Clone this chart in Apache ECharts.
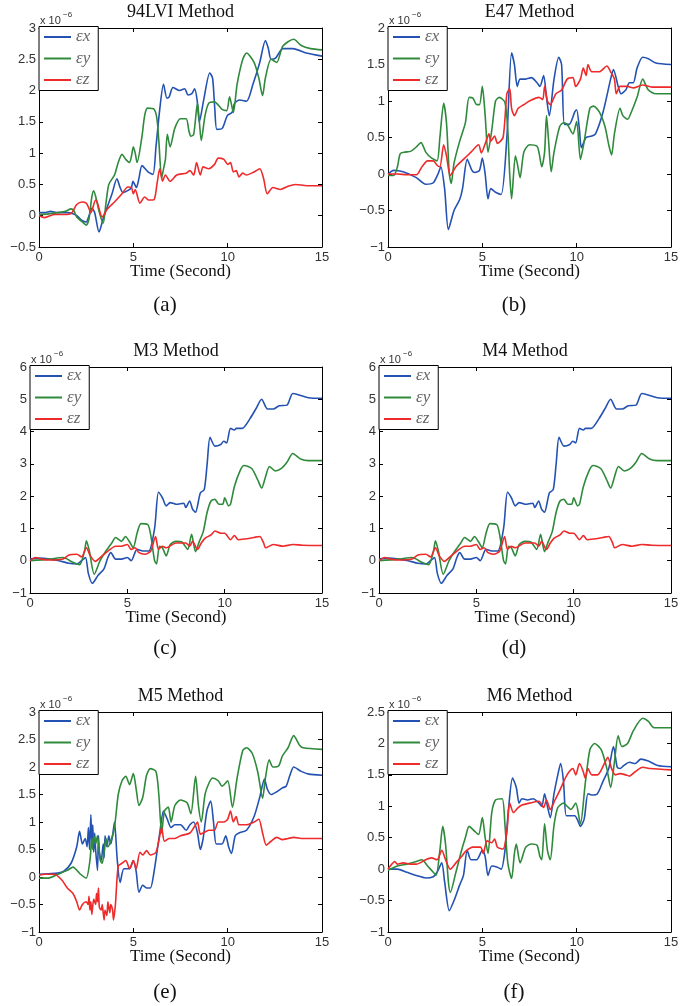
<!DOCTYPE html>
<html>
<head>
<meta charset="utf-8">
<script src="https://cdn.jsdelivr.net/npm/echarts@6/dist/echarts.min.js"></script>
<style>html,body{margin:0;padding:0;background:#fff}#c{width:699px;height:1006px}</style>
</head>
<body>
<div id="c"></div>
<script>
// ---------------- DATA (values in units of 1e-6) ----------------
const seriesNames = ['εx', 'εy', 'εz'];
const panelTitles = ['94LVI Method', 'E47 Method', 'M3 Method', 'M4 Method', 'M5 Method', 'M6 Method'];
const subCaptions = ['(a)', '(b)', '(c)', '(d)', '(e)', '(f)'];
const xLabel = 'Time (Second)';
const xTicks = [0, 5, 10, 15];
const yRanges = [[-0.5, 3, 0.5], [-1, 2, 0.5], [-1, 6, 1], [-1, 6, 1], [-1, 3, 0.5], [-1, 2.5, 0.5]];

const a_ex = [[0,0.05],[0.3,0.05],[0.6,0.07],[1.0,0.05],[1.5,0.05],[1.8,0.03],[2.0,0.0],[2.3,-0.08],[2.5,-0.1],[2.65,0.0],[2.8,0.12],[2.95,0.05],[3.18,-0.26],[3.4,-0.05],[3.57,0.1],[3.87,0.35],[4.13,0.59],[4.3,0.45],[4.45,0.37],[4.7,0.4],[4.9,0.45],[4.98,0.55],[5.16,0.45],[5.3,0.6],[5.46,0.8],[5.78,0.7],[6.04,0.66],[6.2,1.1],[6.4,1.7],[6.6,2.1],[6.78,1.88],[6.9,1.9],[7.1,2.05],[7.45,2.0],[7.72,2.03],[7.9,1.93],[8.1,1.95],[8.25,2.03],[8.38,1.85],[8.5,1.5],[8.73,1.85],[9.05,2.28],[9.2,2.2],[9.32,1.7],[9.43,1.38],[9.72,1.4],[9.98,1.6],[10.23,1.65],[10.37,1.8],[10.64,1.85],[11.0,1.83],[11.34,2.1],[11.7,2.45],[12.0,2.8],[12.15,2.68],[12.3,2.5],[12.54,2.52],[12.93,2.67],[13.46,2.67],[14.17,2.6],[15,2.55]];
const a_ey = [[0,0.02],[0.5,0.03],[1.0,0.05],[1.4,0.07],[1.7,0.11],[1.85,0.08],[2.0,-0.02],[2.3,-0.1],[2.5,-0.15],[2.65,-0.05],[2.8,0.3],[2.9,0.4],[3.05,0.25],[3.2,0.05],[3.4,-0.12],[3.55,0.2],[3.7,0.5],[4.0,0.65],[4.2,0.85],[4.4,0.98],[4.6,0.9],[4.8,0.85],[4.9,0.95],[5.0,1.1],[5.1,1.0],[5.2,0.85],[5.45,1.25],[5.6,1.6],[5.75,1.72],[6.1,1.7],[6.25,1.55],[6.35,1.2],[6.5,0.6],[6.6,0.75],[6.7,0.9],[6.8,1.3],[6.95,1.1],[7.2,1.4],[7.5,1.55],[7.8,1.55],[7.95,1.35],[8.05,1.27],[8.2,1.3],[8.4,1.8],[8.5,1.5],[8.6,1.2],[8.8,1.6],[9.0,1.8],[9.3,1.82],[9.7,1.7],[9.95,1.68],[10.1,1.9],[10.3,1.65],[10.5,2.1],[10.8,2.5],[11.0,2.6],[11.4,2.45],[11.65,2.2],[11.85,1.92],[12.0,2.2],[12.3,2.5],[12.6,2.45],[12.9,2.7],[13.2,2.78],[13.5,2.82],[13.9,2.72],[14.4,2.67],[15,2.65]];
const a_ez = [[0,0.0],[0.3,-0.03],[0.8,0.02],[1.5,0.02],[1.75,0.05],[2.0,0.18],[2.3,0.22],[2.5,0.2],[2.6,0.15],[2.75,0.05],[3.0,0.25],[3.1,0.2],[3.35,-0.02],[3.6,0.1],[4.0,0.22],[4.4,0.35],[4.7,0.46],[4.9,0.45],[5.0,0.35],[5.1,0.42],[5.35,0.2],[5.6,0.3],[5.8,0.25],[6.1,0.26],[6.25,0.5],[6.4,0.75],[6.55,0.55],[6.7,0.65],[6.95,0.55],[7.3,0.65],[7.8,0.68],[8.0,0.72],[8.2,0.65],[8.35,0.85],[8.55,0.65],[8.7,0.78],[9.0,0.75],[9.3,0.82],[9.5,0.92],[9.8,0.9],[10.0,0.82],[10.15,0.85],[10.3,0.7],[10.45,0.72],[10.6,0.62],[10.8,0.68],[11.0,0.65],[11.4,0.7],[11.7,0.75],[11.9,0.6],[12.1,0.35],[12.4,0.45],[12.8,0.42],[13.2,0.47],[13.6,0.5],[14.2,0.48],[15,0.48]];

const b_ex = [[0,0.0],[0.3,0.05],[0.8,0.03],[1.5,-0.05],[2.0,-0.14],[2.4,-0.12],[2.65,0.0],[2.8,0.1],[3.0,-0.2],[3.2,-0.76],[3.5,-0.5],[3.8,-0.35],[3.95,-0.2],[4.2,0.2],[4.45,0.05],[4.6,0.02],[4.85,0.05],[5.0,0.22],[5.15,0.0],[5.3,-0.34],[5.45,-0.2],[5.7,-0.25],[6.0,-0.28],[6.3,0.5],[6.55,1.66],[6.7,1.5],[6.85,1.2],[7.0,1.3],[7.3,1.3],[7.6,1.32],[7.9,1.25],[8.05,1.2],[8.25,1.35],[8.4,1.05],[8.55,0.8],[8.8,1.3],[9.05,1.6],[9.2,1.5],[9.35,0.68],[9.6,0.68],[9.9,0.85],[10.0,0.88],[10.15,0.6],[10.25,0.36],[10.5,0.5],[10.8,0.52],[11.0,0.55],[11.4,0.85],[11.8,1.3],[11.95,1.43],[12.2,1.2],[12.35,1.1],[12.6,1.15],[12.8,1.25],[13.0,1.25],[13.2,1.45],[13.5,1.6],[13.8,1.58],[14.2,1.52],[15,1.5]];
const b_ey = [[0,-0.02],[0.3,-0.02],[0.5,0.1],[0.65,0.28],[0.9,0.3],[1.2,0.31],[1.5,0.37],[1.75,0.43],[2.0,0.3],[2.3,0.22],[2.6,0.18],[2.75,0.5],[2.95,0.97],[3.1,0.7],[3.25,0.0],[3.35,-0.13],[3.5,0.15],[3.8,0.45],[4.1,0.7],[4.3,1.05],[4.5,1.04],[4.7,0.95],[4.85,0.95],[5.0,1.2],[5.15,0.8],[5.3,0.3],[5.5,0.6],[5.7,1.0],[5.9,1.05],[6.2,0.98],[6.35,0.6],[6.45,0.0],[6.55,-0.34],[6.75,0.25],[6.85,0.15],[7.0,-0.05],[7.2,0.3],[7.5,0.4],[7.9,0.38],[8.0,0.3],[8.15,0.1],[8.3,0.3],[8.4,0.8],[8.5,0.5],[8.65,0.03],[8.8,0.3],[9.1,0.65],[9.3,0.7],[9.5,0.68],[9.8,0.55],[10.0,0.72],[10.2,0.2],[10.4,0.45],[10.7,0.9],[10.9,0.93],[11.2,0.85],[11.5,0.65],[11.7,0.4],[11.85,0.26],[12.0,0.55],[12.3,0.9],[12.45,0.8],[12.7,0.75],[12.9,0.85],[13.2,1.05],[13.5,1.3],[13.8,1.15],[14.2,1.1],[15,1.1]];
const b_ez = [[0,0.0],[0.5,0.0],[1.0,-0.01],[1.5,-0.01],[1.8,0.1],[2.1,0.18],[2.4,0.18],[2.6,0.12],[2.75,0.1],[2.95,0.4],[3.1,0.25],[3.3,-0.02],[3.6,0.1],[4.0,0.2],[4.4,0.3],[4.8,0.4],[4.95,0.29],[5.2,0.45],[5.35,0.55],[5.45,0.45],[5.65,0.52],[5.8,0.42],[6.1,0.5],[6.3,1.1],[6.45,1.17],[6.55,0.9],[6.7,0.8],[6.9,0.9],[7.2,0.95],[7.5,1.0],[8.0,1.05],[8.2,1.02],[8.3,1.2],[8.45,1.0],[8.6,0.95],[8.9,1.1],[9.2,1.15],[9.5,1.3],[9.8,1.32],[9.95,1.2],[10.2,1.3],[10.35,1.45],[10.5,1.35],[10.6,1.5],[10.8,1.4],[11.2,1.4],[11.6,1.48],[11.8,1.4],[12.0,1.3],[12.1,1.1],[12.3,1.2],[12.7,1.2],[13.0,1.18],[13.5,1.22],[14,1.19],[15,1.19]];

const m3_ex = [[0,0.05],[0.5,0.08],[1.0,0.05],[1.5,0.0],[2.0,-0.08],[2.4,-0.1],[2.65,0.0],[2.85,0.1],[3.0,-0.4],[3.2,-0.7],[3.5,-0.45],[3.8,-0.25],[4.0,0.1],[4.15,0.25],[4.4,0.05],[4.7,0.05],[5.0,0.1],[5.2,0.0],[5.5,0.35],[5.8,0.3],[6.1,0.3],[6.4,1.0],[6.6,2.12],[6.8,1.95],[7.0,1.7],[7.2,1.8],[7.5,1.75],[7.9,1.78],[8.0,1.65],[8.2,1.85],[8.35,1.6],[8.5,1.5],[8.75,2.1],[8.95,2.2],[9.1,3.0],[9.25,3.82],[9.5,3.55],[9.8,3.6],[9.95,3.7],[10.1,3.65],[10.3,4.1],[10.5,4.05],[10.6,4.1],[10.9,4.1],[11.3,4.4],[11.6,4.7],[11.9,5.0],[12.2,4.7],[12.5,4.7],[12.8,4.8],[13.2,4.82],[13.5,5.18],[13.9,5.12],[14.3,5.05],[15,5.03]];
const m3_ey = [[0,0.0],[1.0,0.05],[1.7,0.1],[2.2,-0.05],[2.55,-0.12],[2.8,0.3],[2.9,0.62],[3.05,0.3],[3.3,-0.42],[3.6,0.0],[3.9,0.3],[4.2,0.55],[4.4,0.72],[4.7,0.6],[4.9,0.75],[5.15,0.55],[5.3,0.4],[5.5,0.85],[5.7,1.15],[6.05,1.12],[6.2,0.8],[6.4,0.0],[6.5,-0.1],[6.65,0.45],[6.8,0.4],[7.0,0.15],[7.2,0.5],[7.5,0.6],[7.8,0.58],[8.1,0.35],[8.3,0.82],[8.5,0.28],[8.7,0.6],[8.9,0.9],[9.1,1.5],[9.3,1.85],[9.5,1.9],[9.7,1.75],[9.9,1.75],[10.0,1.95],[10.2,1.7],[10.3,1.75],[10.5,2.3],[10.8,2.8],[11.0,2.95],[11.4,2.85],[11.7,2.5],[11.9,2.25],[12.1,2.6],[12.3,2.92],[12.6,2.78],[12.9,2.85],[13.2,3.05],[13.5,3.32],[13.9,3.15],[14.3,3.1],[15,3.1]];
const m3_ez = [[0,0.0],[0.3,0.1],[0.6,0.05],[1.0,0.02],[1.7,0.05],[2.0,0.18],[2.4,0.2],[2.65,0.12],[2.9,0.4],[3.1,0.15],[3.35,-0.02],[3.7,0.15],[4.0,0.3],[4.4,0.45],[4.7,0.45],[5.0,0.5],[5.2,0.35],[5.4,0.4],[5.6,0.25],[5.9,0.2],[6.2,0.3],[6.45,0.75],[6.6,0.35],[6.8,0.45],[7.0,0.4],[7.5,0.55],[8.0,0.55],[8.2,0.45],[8.35,0.6],[8.6,0.35],[8.8,0.55],[9.0,0.7],[9.3,0.8],[9.5,0.92],[9.8,0.85],[10.0,0.85],[10.3,0.65],[10.5,0.78],[10.7,0.65],[11.0,0.67],[11.5,0.72],[11.8,0.75],[12.0,0.55],[12.1,0.4],[12.5,0.5],[13.0,0.45],[13.5,0.5],[14,0.48],[15,0.47]];

const m4_ex = [[0,0.05],[0.5,0.08],[1.0,0.05],[1.5,0.0],[2.0,-0.08],[2.4,-0.1],[2.65,0.0],[2.85,0.1],[3.0,-0.4],[3.2,-0.7],[3.5,-0.45],[3.8,-0.25],[4.0,0.1],[4.15,0.25],[4.4,0.05],[4.7,0.05],[5.0,0.1],[5.2,0.0],[5.5,0.35],[5.8,0.3],[6.1,0.3],[6.4,1.0],[6.6,2.12],[6.8,1.95],[7.0,1.7],[7.2,1.8],[7.5,1.75],[7.9,1.78],[8.0,1.65],[8.2,1.85],[8.35,1.6],[8.5,1.5],[8.75,2.1],[8.95,2.2],[9.1,3.0],[9.25,3.82],[9.5,3.55],[9.8,3.6],[9.95,3.7],[10.1,3.65],[10.3,4.1],[10.5,4.05],[10.6,4.1],[10.9,4.1],[11.3,4.4],[11.6,4.7],[11.9,5.0],[12.2,4.7],[12.5,4.7],[12.8,4.8],[13.2,4.82],[13.5,5.18],[13.9,5.12],[14.3,5.05],[15,5.03]];
const m4_ey = [[0,0.0],[1.0,0.05],[1.7,0.1],[2.2,-0.05],[2.55,-0.12],[2.8,0.3],[2.9,0.62],[3.05,0.3],[3.3,-0.42],[3.6,0.0],[3.9,0.3],[4.2,0.55],[4.4,0.72],[4.7,0.6],[4.9,0.75],[5.15,0.55],[5.3,0.4],[5.5,0.85],[5.7,1.15],[6.05,1.12],[6.2,0.8],[6.4,0.0],[6.5,-0.1],[6.65,0.45],[6.8,0.4],[7.0,0.15],[7.2,0.5],[7.5,0.6],[7.8,0.58],[8.1,0.35],[8.3,0.82],[8.5,0.28],[8.7,0.6],[8.9,0.9],[9.1,1.5],[9.3,1.85],[9.5,1.9],[9.7,1.75],[9.9,1.75],[10.0,1.95],[10.2,1.7],[10.3,1.75],[10.5,2.3],[10.8,2.8],[11.0,2.95],[11.4,2.85],[11.7,2.5],[11.9,2.25],[12.1,2.6],[12.3,2.92],[12.6,2.78],[12.9,2.85],[13.2,3.05],[13.5,3.32],[13.9,3.15],[14.3,3.1],[15,3.1]];
const m4_ez = [[0,0.0],[0.3,0.1],[0.6,0.05],[1.0,0.02],[1.7,0.05],[2.0,0.18],[2.4,0.2],[2.65,0.12],[2.9,0.4],[3.1,0.15],[3.35,-0.02],[3.7,0.15],[4.0,0.3],[4.4,0.45],[4.7,0.45],[5.0,0.5],[5.2,0.35],[5.4,0.4],[5.6,0.25],[5.9,0.2],[6.2,0.3],[6.45,0.75],[6.6,0.35],[6.8,0.45],[7.0,0.4],[7.5,0.55],[8.0,0.55],[8.2,0.45],[8.35,0.6],[8.6,0.35],[8.8,0.55],[9.0,0.7],[9.3,0.8],[9.5,0.92],[9.8,0.85],[10.0,0.85],[10.3,0.65],[10.5,0.78],[10.7,0.65],[11.0,0.67],[11.5,0.72],[11.8,0.75],[12.0,0.55],[12.1,0.4],[12.5,0.5],[13.0,0.45],[13.5,0.5],[14,0.48],[15,0.47]];

const m5_ex = [[0,0.05],[0.5,0.06],[1.0,0.07],[1.3,0.1],[1.7,0.25],[2.0,0.55],[2.15,0.83],[2.3,0.6],[2.45,0.7],[2.55,0.55],[2.62,0.9],[2.68,0.5],[2.75,1.13],[2.8,0.6],[2.85,0.95],[2.9,0.45],[2.95,0.8],[3.0,0.5],[3.1,0.12],[3.15,0.75],[3.2,0.45],[3.3,0.3],[3.4,0.6],[3.45,0.35],[3.5,0.75],[3.6,0.55],[3.7,0.75],[3.8,0.6],[3.9,0.75],[4.0,1.0],[4.15,0.3],[4.3,-0.1],[4.5,0.15],[4.8,0.15],[5.0,0.3],[5.15,0.1],[5.3,-0.28],[5.5,-0.15],[5.7,-0.2],[5.9,-0.2],[6.1,0.1],[6.4,0.8],[6.6,1.2],[6.8,1.05],[7.0,0.9],[7.2,0.95],[7.5,0.95],[7.8,0.85],[8.0,0.95],[8.2,1.0],[8.4,0.8],[8.55,0.5],[8.7,0.7],[8.9,1.2],[9.1,1.38],[9.25,1.0],[9.4,0.6],[9.7,0.6],[9.9,0.75],[10.05,0.55],[10.2,0.43],[10.4,0.75],[10.6,0.8],[11.0,0.85],[11.4,1.1],[11.7,1.45],[11.95,1.78],[12.1,1.6],[12.3,1.5],[12.6,1.55],[12.9,1.62],[13.1,1.65],[13.3,1.85],[13.5,2.0],[13.9,1.92],[14.3,1.87],[15,1.85]];
const m5_ey = [[0,-0.02],[0.5,-0.02],[1.0,0.05],[1.5,0.12],[1.8,0.18],[2.2,0.05],[2.5,-0.02],[2.7,0.3],[2.8,0.7],[2.85,0.5],[2.9,0.75],[3.0,0.6],[3.1,0.75],[3.2,0.45],[3.25,0.3],[3.35,0.25],[3.45,0.45],[3.55,0.7],[3.65,0.55],[3.8,0.65],[4.0,0.9],[4.2,1.5],[4.4,1.75],[4.6,1.83],[4.8,1.68],[5.0,1.88],[5.15,1.6],[5.3,1.3],[5.5,1.45],[5.7,1.85],[5.9,1.97],[6.2,1.92],[6.35,1.5],[6.5,0.8],[6.65,1.2],[6.85,1.27],[7.0,1.0],[7.2,1.3],[7.5,1.4],[7.85,1.35],[8.05,1.15],[8.3,1.83],[8.45,1.3],[8.6,1.0],[8.8,1.5],[9.0,1.7],[9.2,1.8],[9.5,1.75],[9.7,1.65],[10.0,1.75],[10.25,1.27],[10.5,1.8],[10.8,2.3],[11.0,2.35],[11.3,2.25],[11.6,1.9],[11.85,1.43],[12.0,1.8],[12.2,2.13],[12.4,2.0],[12.7,2.02],[12.9,2.2],[13.2,2.35],[13.5,2.57],[13.8,2.4],[14.0,2.35],[15,2.32]];
const m5_ez = [[0,0.03],[0.3,0.05],[0.8,0.05],[1.2,-0.05],[1.5,-0.2],[1.8,-0.3],[2.0,-0.45],[2.15,-0.6],[2.3,-0.5],[2.5,-0.45],[2.6,-0.5],[2.65,-0.35],[2.7,-0.6],[2.75,-0.45],[2.8,-0.68],[2.9,-0.4],[3.0,-0.5],[3.05,-0.3],[3.1,-0.45],[3.15,-0.2],[3.2,-0.55],[3.3,-0.6],[3.35,-0.5],[3.45,-0.78],[3.5,-0.6],[3.6,-0.7],[3.65,-0.45],[3.75,-0.65],[3.8,-0.5],[3.9,-0.6],[3.95,-0.78],[4.05,-0.5],[4.2,0.2],[4.4,0.25],[4.6,0.3],[4.8,0.15],[5.0,0.3],[5.15,0.15],[5.35,0.45],[5.5,0.4],[5.7,0.48],[5.9,0.4],[6.2,0.45],[6.4,0.75],[6.5,0.9],[6.65,0.65],[6.9,0.7],[7.2,0.7],[7.5,0.75],[8.0,0.8],[8.3,0.95],[8.4,1.0],[8.55,0.78],[8.7,0.8],[9.0,0.85],[9.3,0.85],[9.5,1.0],[9.8,1.0],[10.0,1.05],[10.15,1.2],[10.3,1.0],[10.45,1.1],[10.6,0.95],[11.0,0.95],[11.4,1.0],[11.65,1.05],[11.85,0.8],[12.05,0.58],[12.3,0.65],[12.6,0.72],[12.9,0.68],[13.2,0.7],[13.5,0.72],[14,0.7],[15,0.7]];

const m6_ex = [[0,0.0],[0.5,0.0],[1.0,-0.05],[1.5,-0.1],[2.0,-0.14],[2.4,-0.12],[2.6,-0.05],[2.85,0.1],[3.0,-0.2],[3.25,-0.66],[3.5,-0.5],[3.8,-0.25],[4.0,-0.1],[4.2,0.3],[4.4,0.15],[4.7,0.15],[5.0,0.3],[5.15,0.2],[5.3,-0.1],[5.5,0.05],[5.8,0.03],[6.0,0.0],[6.2,0.3],[6.4,1.0],[6.6,1.45],[6.8,1.3],[6.95,1.05],[7.1,1.12],[7.4,1.1],[7.7,1.12],[8.0,1.05],[8.15,1.0],[8.3,1.2],[8.45,1.0],[8.6,0.82],[8.8,1.2],[9.0,1.5],[9.15,1.68],[9.3,1.4],[9.45,0.85],[9.7,0.85],[9.9,0.85],[10.05,0.78],[10.2,0.68],[10.4,0.8],[10.6,1.2],[10.8,1.18],[11.1,1.2],[11.4,1.4],[11.7,1.6],[11.95,1.95],[12.15,1.62],[12.3,1.6],[12.5,1.65],[12.8,1.7],[13.1,1.68],[13.4,1.75],[13.8,1.72],[14.3,1.65],[15,1.63]];
const m6_ey = [[0,-0.02],[0.5,0.05],[1.0,0.08],[1.5,0.12],[1.8,0.15],[2.1,0.05],[2.4,-0.05],[2.55,-0.1],[2.75,0.3],[2.9,0.68],[3.05,0.4],[3.2,-0.2],[3.3,-0.37],[3.6,-0.05],[3.9,0.3],[4.1,0.5],[4.3,0.68],[4.6,0.6],[4.8,0.55],[5.0,0.82],[5.15,0.5],[5.3,0.25],[5.5,0.9],[5.7,1.1],[6.05,1.12],[6.2,0.7],[6.35,0.1],[6.55,-0.15],[6.7,0.25],[6.8,0.4],[7.0,0.1],[7.3,0.35],[7.6,0.4],[7.9,0.38],[8.05,0.2],[8.15,0.15],[8.3,0.72],[8.45,0.3],[8.6,0.15],[8.8,0.7],[9.0,0.98],[9.3,1.05],[9.5,1.0],[9.7,0.95],[9.95,1.05],[10.2,0.72],[10.45,1.35],[10.7,1.9],[10.95,2.0],[11.3,1.9],[11.6,1.6],[11.8,1.3],[12.0,1.7],[12.2,2.12],[12.4,1.95],[12.7,2.0],[13.0,2.2],[13.5,2.4],[13.8,2.35],[14.1,2.25],[15,2.25]];
const m6_ez = [[0,0.0],[0.2,0.08],[0.35,0.12],[0.5,0.08],[0.8,0.1],[1.2,0.08],[1.5,0.08],[1.7,0.1],[2.0,0.15],[2.3,0.18],[2.6,0.15],[2.85,0.3],[3.05,0.15],[3.3,0.0],[3.6,0.1],[3.9,0.2],[4.1,0.28],[4.5,0.35],[4.9,0.35],[5.05,0.25],[5.25,0.45],[5.5,0.42],[5.65,0.48],[5.8,0.35],[6.1,0.32],[6.3,0.6],[6.45,1.05],[6.65,0.9],[6.9,0.98],[7.1,1.02],[7.5,1.05],[8.0,1.08],[8.25,0.98],[8.4,1.1],[8.6,0.95],[8.85,1.1],[9.1,1.25],[9.4,1.45],[9.6,1.55],[9.8,1.6],[9.95,1.5],[10.15,1.68],[10.35,1.55],[10.45,1.45],[10.6,1.6],[10.8,1.5],[11.1,1.5],[11.5,1.7],[11.65,1.78],[11.85,1.6],[12.05,1.5],[12.3,1.52],[12.6,1.5],[12.8,1.48],[13.1,1.55],[13.5,1.62],[13.9,1.6],[15,1.58]];

const panelData = [
  [a_ex, a_ey, a_ez], [b_ex, b_ey, b_ez], [m3_ex, m3_ey, m3_ez],
  [m4_ex, m4_ey, m4_ez], [m5_ex, m5_ey, m5_ez], [m6_ex, m6_ey, m6_ez]
];

// ---------------- LAYOUT / STYLE ----------------
const colors = ['#2452b2', '#2f8a3c', '#ee2a2a'];
const grids = [
  {left: 39, top: 28, width: 283, height: 219},
  {left: 388, top: 28, width: 283, height: 219},
  {left: 30, top: 367, width: 292, height: 226},
  {left: 379, top: 367, width: 292, height: 226},
  {left: 39, top: 712, width: 283, height: 220},
  {left: 388, top: 712, width: 283, height: 220}
];
const capPos = [[165, 305], [514, 305], [165, 648], [514, 648], [165, 992], [514, 992]];

const fmt = v => {
  const s = String(Math.round(v * 100) / 100);
  return v < 0 ? '\u2212' + s.slice(1) : s;
};
const axisLineStyle = {show: true, onZero: false, lineStyle: {color: '#000', width: 1}};
const tick = {show: true, inside: true, length: 4, lineStyle: {color: '#000', width: 1}};
const labelStyle = {color: '#333', fontFamily: 'Liberation Sans, Arial, sans-serif', fontSize: 13};

const xAxes = [], yAxes = [], series = [], legends = [], graphics = [];
grids.forEach((g, i) => {
  const [ymin, ymax, yint] = yRanges[i];
  xAxes.push({gridIndex: i, type: 'value', position: 'bottom', min: xTicks[0], max: xTicks[xTicks.length - 1], interval: 5,
    axisLine: axisLineStyle, axisTick: tick, splitLine: {show: false},
    axisLabel: Object.assign({margin: 4, formatter: fmt}, labelStyle)});
  xAxes.push({gridIndex: i, type: 'value', position: 'top', min: xTicks[0], max: xTicks[xTicks.length - 1], interval: 5,
    axisLine: axisLineStyle, axisTick: tick, splitLine: {show: false}, axisLabel: {show: false}});
  yAxes.push({gridIndex: i, type: 'value', position: 'left', min: ymin, max: ymax, interval: yint,
    axisLine: axisLineStyle, axisTick: tick, splitLine: {show: false},
    axisLabel: Object.assign({margin: 3, formatter: fmt}, labelStyle)});
  yAxes.push({gridIndex: i, type: 'value', position: 'right', min: ymin, max: ymax, interval: yint,
    axisLine: axisLineStyle, axisTick: tick, splitLine: {show: false}, axisLabel: {show: false}});

  panelData[i].forEach((d, k) => {
    series.push({type: 'line', name: seriesNames[k], xAxisIndex: 2 * i, yAxisIndex: 2 * i,
      data: d, symbol: 'none', smooth: 0.25, clip: true,
      lineStyle: {color: colors[k], width: 1.6}, itemStyle: {color: colors[k]}, z: 2 + k});
  });

  legends.push({left: g.left, top: g.top - 1.5, orient: 'vertical', data: seriesNames, icon: 'rect',
    itemWidth: 27, itemHeight: 2, itemGap: 4.5, padding: [2, 8, 2, 5], selectedMode: false,
    borderColor: '#000', borderWidth: 1, backgroundColor: '#fff', z: 10,
    textStyle: {fontFamily: 'Liberation Serif, serif', fontStyle: 'italic', fontSize: 17, color: '#666', lineHeight: 14}});

  const cx = g.left + g.width / 2;
  graphics.push({type: 'text', x: cx, y: g.top - 16, style: {text: panelTitles[i], font: '18px "Liberation Serif", serif', fill: '#111', align: 'center', verticalAlign: 'middle'}});
  graphics.push({type: 'text', x: cx, y: g.top + g.height + 24.5, style: {text: xLabel, font: '17px "Liberation Serif", serif', fill: '#111', align: 'center', verticalAlign: 'middle'}});
  graphics.push({type: 'text', x: capPos[i][0], y: capPos[i][1], style: {text: subCaptions[i], font: '21px "Liberation Serif", serif', fill: '#111', align: 'center', verticalAlign: 'middle'}});
  graphics.push({type: 'text', x: g.left + 1, y: g.top - 7, style: {text: 'x 10', font: '11px "Liberation Sans", sans-serif', fill: '#333', align: 'left', verticalAlign: 'middle'}});
  graphics.push({type: 'text', x: g.left + 24, y: g.top - 13.5, style: {text: '\u22126', font: '8px "Liberation Sans", sans-serif', fill: '#333', align: 'left', verticalAlign: 'middle'}});
});

const chart = echarts.init(document.getElementById('c'), null, {renderer: 'canvas'});
chart.setOption({
  animation: false,
  backgroundColor: '#fff',
  grid: grids.map(g => Object.assign({containLabel: false}, g)),
  xAxis: xAxes,
  yAxis: yAxes,
  legend: legends,
  series: series,
  graphic: graphics
});
</script>
</body>
</html>
